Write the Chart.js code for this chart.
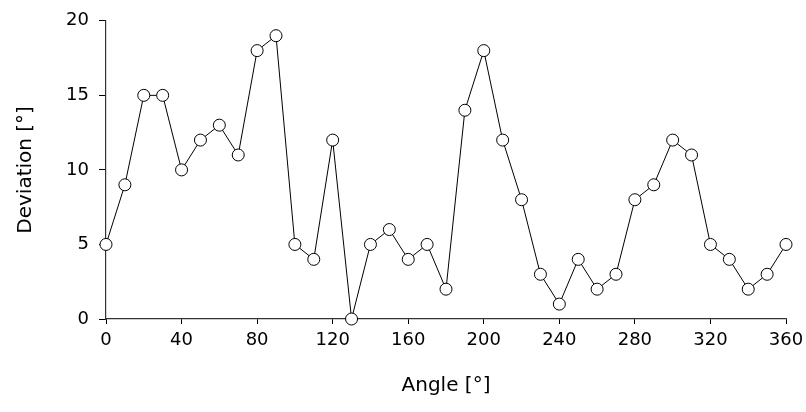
<!DOCTYPE html>
<html>
<head>
<meta charset="utf-8">
<script src="https://cdn.jsdelivr.net/npm/chart.js@4/dist/chart.umd.min.js"></script>
<style>
  html, body { margin: 0; padding: 0; background: #fff; }
  #wrap { width: 806px; height: 412px; }
</style>
</head>
<body>
<div id="wrap"><canvas id="devChart"></canvas></div>
<script>
const angles = [0, 10, 20, 30, 40, 50, 60, 70, 80, 90, 100, 110, 120, 130, 140, 150, 160, 170, 180,
  190, 200, 210, 220, 230, 240, 250, 260, 270, 280, 290, 300, 310, 320, 330, 340, 350, 360];
const deviation = [5, 9, 15, 15, 10, 12, 13, 11, 18, 19, 5, 4, 12, 0, 5, 6, 4, 5, 2,
  14, 18, 12, 8, 3, 1, 4, 2, 3, 8, 9, 12, 11, 5, 4, 2, 3, 5];
const xTicks = [0, 40, 80, 120, 160, 200, 240, 280, 320, 360];
const yTicks = [0, 5, 10, 15, 20];

const font = { family: "DejaVu Sans", size: 18 };
const titleFont = { family: "DejaVu Sans", size: 20 };

new Chart(document.getElementById("devChart"), {
  type: "line",
  data: {
    datasets: [{
      data: angles.map((a, i) => ({ x: a, y: deviation[i] })),
      borderColor: "#000",
      borderWidth: 1,
      backgroundColor: "#fff",
      pointBackgroundColor: "#fff",
      pointBorderColor: "#000",
      pointBorderWidth: 1,
      pointRadius: 6,
      tension: 0,
      clip: false
    }]
  },
  options: {
    responsive: true,
    maintainAspectRatio: false,
    animation: false,
    layout: { padding: { top: 16, right: 20, left: 10, bottom: 0 } },
    plugins: { legend: { display: false }, tooltip: { enabled: false } },
    scales: {
      x: {
        type: "linear",
        min: 0,
        max: 360,
        afterBuildTicks: s => { s.ticks = xTicks.map(v => ({ value: v })); },
        afterFit: s => { s.height = 93; s.paddingRight = 0; s.paddingLeft = 0; },
        grid: { drawOnChartArea: false, drawTicks: true, tickLength: 5, color: "#000" },
        border: { color: "#333", width: 1.2 },
        ticks: { color: "#000", font, padding: 6, maxRotation: 0 },
        title: { display: true, text: "Angle [°]", color: "#000", font: titleFont, padding: { top: 4, bottom: 14 } }
      },
      y: {
        min: 0,
        max: 20,
        afterBuildTicks: s => { s.ticks = yTicks.map(v => ({ value: v })); },
        afterFit: s => { s.width = 96; },
        grid: { drawOnChartArea: false, drawTicks: true, tickLength: 7, color: "#000" },
        border: { color: "#333", width: 1.2 },
        ticks: { color: "#000", font, padding: 10 },
        title: { display: true, text: "Deviation [°]", color: "#000", font: titleFont, padding: { bottom: 10 } }
      }
    }
  }
});
</script>
</body>
</html>
